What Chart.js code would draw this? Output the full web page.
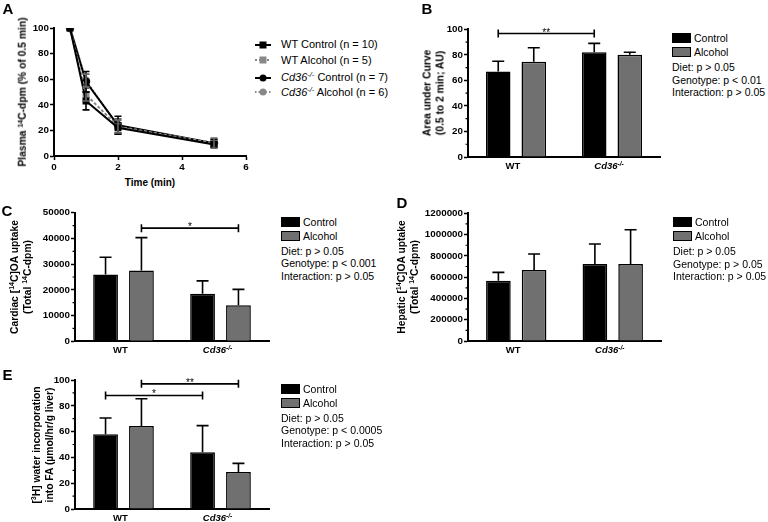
<!DOCTYPE html>
<html>
<head>
<meta charset="utf-8">
<script src="https://cdn.jsdelivr.net/npm/chart.js@4.4.1/dist/chart.umd.min.js"></script>
<style>
  body { margin: 0; background: #fff; }
  #fig { position: relative; width: 768px; height: 522px; overflow: hidden; font-family: "Liberation Sans", Arial, sans-serif; color: #000; }
  #fig canvas { position: absolute; }
  .t { position: absolute; white-space: nowrap; line-height: 1; }
  .mid { transform: translate(-50%, -50%); }
  .lft { transform: translate(0, -50%); }
  .rot { transform: translate(-50%, -50%) rotate(-90deg); text-align: center; line-height: 12.5px; font-size: 10.3px; font-weight: bold; }
  sup { font-size: 0.68em; line-height: 0; vertical-align: 0.5em; }
  .letter { font-weight: bold; font-size: 15px; }
  .cat { font-weight: bold; font-size: 9.5px; }
  .leg { font-size: 10.5px; }
  .sw { position: absolute; width: 17px; height: 8px; border: 1px solid #000; transform: translate(0, -50%); }
</style>
</head>
<body>
<div id="fig"></div>
<script>
// ---- data ----
const timePoints = [0.5, 1, 2, 5];
const wtControlPct = [100, 43, 22, 9];
const wtControlErr = [0, 7, 4, 2];
const wtAlcoholPct = [100, 48, 23, 10];
const wtAlcoholErr = [0, 5, 6, 3];
const cd36ControlPct = [100, 58, 24, 10];
const cd36ControlErr = [0, 8, 7, 3];
const cd36AlcoholPct = [100, 59, 23, 10];
const cd36AlcoholErr = [0, 5, 5, 4];

const genotypes = ['WT', 'Cd36-/-'];

const aucControl = [67, 82];
const aucControlErr = [8, 7];
const aucAlcohol = [74.5, 80];
const aucAlcoholErr = [11, 2];

const cardiacControl = [26000, 18500];
const cardiacControlErr = [6700, 5000];
const cardiacAlcohol = [27500, 14000];
const cardiacAlcoholErr = [12800, 6200];

const hepaticControl = [566000, 724000];
const hepaticControlErr = [79000, 188000];
const hepaticAlcohol = [667000, 724000];
const hepaticAlcoholErr = [151000, 322000];

const lipoControl = [58, 44];
const lipoControlErr = [12.5, 20.6];
const lipoAlcohol = [64.3, 28.7];
const lipoAlcoholErr = [21.2, 6.7];

const CONTROL_FILL = '#000000';
const ALCOHOL_FILL = '#707070';
const FONT = "'Liberation Sans', Arial, sans-serif";

const fig = document.getElementById('fig');

function addText(html, x, y, cls) {
  const d = document.createElement('div');
  d.className = 't ' + cls;
  d.innerHTML = html;
  d.style.left = x + 'px';
  d.style.top = y + 'px';
  fig.appendChild(d);
  return d;
}

function makeCanvas(box) {
  const c = document.createElement('canvas');
  c.width = box.w; c.height = box.h;
  c.style.left = box.x + 'px'; c.style.top = box.y + 'px';
  c.style.width = box.w + 'px'; c.style.height = box.h + 'px';
  fig.appendChild(c);
  return c;
}

// work out padding / axis sizes so the plot area lands where it is in the figure
function frame(box, area) {
  return {
    padding: { left: 0, top: area.top - box.y, right: box.x + box.w - area.right, bottom: 0 },
    yWidth: area.left - box.x,
    xHeight: box.y + box.h - area.bottom
  };
}

// error bars (upper only for bars, both sides for the time course)
const errorBars = {
  id: 'errorBars',
  afterDatasetsDraw(chart) {
    const ctx = chart.ctx, y = chart.scales.y;
    chart.data.datasets.forEach((ds, di) => {
      if (!ds.errors) return;
      const meta = chart.getDatasetMeta(di);
      ctx.save();
      ctx.strokeStyle = ds.errorColor || '#000';
      ctx.lineWidth = 1.6;
      meta.data.forEach((el, i) => {
        const e = ds.errors[i];
        if (!e) return;
        const raw = ds.data[i];
        const v = typeof raw === 'object' ? raw.y : raw;
        const top = y.getPixelForValue(v + e);
        const bot = ds.twoSided ? y.getPixelForValue(v - e) : el.y;
        const cap = ds.capWidth / 2;
        ctx.beginPath();
        ctx.moveTo(el.x, bot); ctx.lineTo(el.x, top);
        ctx.moveTo(el.x - cap, top); ctx.lineTo(el.x + cap, top);
        if (ds.twoSided) { ctx.moveTo(el.x - cap, bot); ctx.lineTo(el.x + cap, bot); }
        ctx.stroke();
      });
      ctx.restore();
    });
  }
};

// significance brackets between two bars
const brackets = {
  id: 'brackets',
  afterDraw(chart, args, opts) {
    const ctx = chart.ctx;
    (opts.items || []).forEach(b => {
      const x1 = chart.getDatasetMeta(b.from[0]).data[b.from[1]].x;
      const x2 = chart.getDatasetMeta(b.to[0]).data[b.to[1]].x;
      const yy = chart.scales.y.getPixelForValue(b.value);
      ctx.save();
      ctx.strokeStyle = '#000';
      ctx.lineWidth = 1.6;
      ctx.beginPath();
      ctx.moveTo(x1, yy); ctx.lineTo(x2, yy);
      ctx.moveTo(x1, yy - 4); ctx.lineTo(x1, yy + 4);
      ctx.moveTo(x2, yy - 4); ctx.lineTo(x2, yy + 4);
      ctx.stroke();
      ctx.fillStyle = '#000';
      ctx.font = '10px ' + FONT;
      ctx.textAlign = 'center';
      ctx.textBaseline = 'alphabetic';
      ctx.fillText(b.label, (x1 + x2) / 2, yy + 2);
      ctx.restore();
    });
  }
};

// short minor ticks between the labelled ones
const minorTicks = {
  id: 'minorTicks',
  afterDraw(chart, args, opts) {
    if (!opts.step) return;
    const y = chart.scales.y, ctx = chart.ctx, x0 = chart.chartArea.left;
    ctx.save();
    ctx.strokeStyle = '#000';
    ctx.lineWidth = 1.2;
    ctx.beginPath();
    for (let v = opts.step; v < y.max; v += opts.step * 2) {
      const py = y.getPixelForValue(v);
      ctx.moveTo(x0 - 2.5, py); ctx.lineTo(x0, py);
    }
    ctx.stroke();
    ctx.restore();
  }
};

const tickFont = { family: FONT, size: 9.8, weight: 'bold' };
const axisBorder = { display: true, color: '#000', width: 2 };
const tickGrid = { display: true, drawOnChartArea: false, drawTicks: true, tickLength: 4, tickWidth: 1.5, tickColor: '#000' };

function barPanel(box, area, yMax, yStep, control, controlErr, alcohol, alcoholErr, bracketList) {
  const f = frame(box, area);
  const chart = new Chart(makeCanvas(box), {
    type: 'bar',
    data: {
      labels: genotypes,
      datasets: [
        { label: 'Control', data: control, errors: controlErr, capWidth: 12,
          backgroundColor: CONTROL_FILL, borderColor: '#000', borderWidth: 1.5 },
        { label: 'Alcohol', data: alcohol, errors: alcoholErr, capWidth: 12,
          backgroundColor: ALCOHOL_FILL, borderColor: '#000', borderWidth: 1.5 }
      ]
    },
    options: {
      responsive: false, animation: false, devicePixelRatio: 1,
      layout: { padding: f.padding },
      datasets: { bar: { categoryPercentage: 0.74, barPercentage: 0.69 } },
      plugins: {
        legend: { display: false }, tooltip: { enabled: false },
        brackets: { items: bracketList }, minorTicks: { step: yStep / 2 }
      },
      scales: {
        x: { ticks: { display: false }, grid: { display: false }, border: axisBorder,
             afterFit: s => { s.height = f.xHeight; } },
        y: { min: 0, max: yMax,
             ticks: { stepSize: yStep, font: tickFont, color: '#000', padding: 1, callback: v => String(v) },
             grid: tickGrid, border: axisBorder,
             afterFit: s => { s.width = f.yWidth; } }
      }
    },
    plugins: [errorBars, brackets, minorTicks]
  });
  // category labels under the axis
  const xs = chart.scales.x;
  const names = ['WT', '<i>Cd36<sup>-/-</sup></i>'];
  names.forEach((n, i) => addText(n, box.x + xs.getPixelForValue(i) - 3, area.bottom + 9, 'mid cat'));
  return chart;
}

function barLegend(area, stats) {
  const x = area.right + 12;
  [['Control', CONTROL_FILL, 9], ['Alcohol', ALCOHOL_FILL, 23]].forEach(([name, col, dy]) => {
    const s = document.createElement('div');
    s.className = 'sw';
    s.style.left = x + 'px'; s.style.top = (area.top + dy) + 'px'; s.style.background = col;
    fig.appendChild(s);
    addText(name, x + 22, area.top + dy, 'lft leg');
  });
  stats.forEach((line, i) => addText(line, x, area.top + 38 + i * 12.4, 'lft leg'));
}

// ---------- Panel A: time course ----------
(function () {
  const box = { x: 0, y: 10, w: 252, h: 165 };
  const area = { left: 54, top: 28, right: 248, bottom: 156 };
  const f = frame(box, area);
  const pts = arr => timePoints.map((t, i) => ({ x: t, y: arr[i] }));
  new Chart(makeCanvas(box), {
    type: 'line',
    data: {
      datasets: [
        { label: 'WT Control (n = 10)', data: pts(wtControlPct), errors: wtControlErr, twoSided: true, capWidth: 7,
          borderColor: '#000', backgroundColor: '#000', pointStyle: 'rect', pointRadius: 3.5, borderWidth: 2 },
        { label: 'WT Alcohol (n = 5)', data: pts(wtAlcoholPct), errors: wtAlcoholErr, twoSided: true, capWidth: 7,
          errorColor: '#666', borderColor: '#888', backgroundColor: '#888', borderDash: [3, 2],
          pointStyle: 'rect', pointRadius: 3.5, borderWidth: 2 },
        { label: 'Cd36-/- Control (n = 7)', data: pts(cd36ControlPct), errors: cd36ControlErr, twoSided: true, capWidth: 7,
          borderColor: '#000', backgroundColor: '#000', pointStyle: 'circle', pointRadius: 3.2, borderWidth: 2 },
        { label: 'Cd36-/- Alcohol (n = 6)', data: pts(cd36AlcoholPct), errors: cd36AlcoholErr, twoSided: true, capWidth: 7,
          errorColor: '#666', borderColor: '#888', backgroundColor: '#888', borderDash: [1.5, 2],
          pointStyle: 'circle', pointRadius: 3.2, borderWidth: 2 }
      ]
    },
    options: {
      responsive: false, animation: false, devicePixelRatio: 1,
      layout: { padding: f.padding },
      elements: { line: { tension: 0, fill: false }, point: { borderWidth: 0 } },
      plugins: { legend: { display: false }, tooltip: { enabled: false } },
      scales: {
        x: { type: 'linear', min: 0, max: 6,
             ticks: { stepSize: 2, font: tickFont, color: '#000', padding: 1 },
             grid: tickGrid, border: axisBorder,
             afterFit: s => { s.height = f.xHeight; } },
        y: { min: 0, max: 100,
             ticks: { stepSize: 20, font: tickFont, color: '#000', padding: 1 },
             grid: tickGrid, border: axisBorder,
             afterFit: s => { s.width = f.yWidth; } }
      }
    },
    plugins: [errorBars]
  });

  addText('Time (min)', 150, 183, 'mid').style.cssText += 'font-weight:bold;font-size:10px;';
  addText('Plasma <sup>14</sup>C-dpm (% of 0.5 min)', 23, 92, 'rot');

  // legend
  const entries = [
    ['WT Control (n = 10)', '#000', 'rect', '', 44],
    ['WT Alcohol (n = 5)', '#888', 'rect', '2,2', 59.5],
    ['<i>Cd36<sup>-/-</sup></i> Control (n = 7)', '#000', 'circle', '', 77],
    ['<i>Cd36<sup>-/-</sup></i> Alcohol (n = 6)', '#888', 'circle', '1.5,2', 91.5]
  ];
  entries.forEach(([txt, col, shape, dash, y]) => {
    const mk = shape === 'rect'
      ? `<rect x="4.5" y="1.5" width="7" height="7" fill="${col}"/>`
      : `<circle cx="8" cy="5" r="3.5" fill="${col}"/>`;
    const svg = `<svg width="16" height="10" style="vertical-align:middle"><line x1="0" y1="5" x2="16" y2="5" stroke="${col}" stroke-width="2" ${dash ? 'stroke-dasharray="' + dash + '"' : ''}/>${mk}</svg>`;
    addText(svg, 255, y, 'lft');
    addText(txt, 281, y, 'lft').style.fontSize = '11px';
  });
})();

// ---------- Panel B ----------
const areaB = { left: 468, top: 29.3, right: 660, bottom: 157 };
barPanel({ x: 400, y: 10, w: 265, h: 160 }, areaB, 100, 20,
  aucControl, aucControlErr, aucAlcohol, aucAlcoholErr,
  [{ from: [0, 0], to: [0, 1], value: 96.7, label: '**' }]);
addText('Area under Curve<br>(0.5 to 2 min; AU)', 434, 93, 'rot');
barLegend(areaB, ['Diet: p &gt; 0.05', 'Genotype: p &lt; 0.01', 'Interaction: p &gt; 0.05']);

// ---------- Panel C ----------
const areaC = { left: 75, top: 212.7, right: 269, bottom: 341.3 };
barPanel({ x: 20, y: 200, w: 255, h: 155 }, areaC, 50000, 10000,
  cardiacControl, cardiacControlErr, cardiacAlcohol, cardiacAlcoholErr,
  [{ from: [1, 0], to: [1, 1], value: 44000, label: '*' }]);
addText('Cardiac [<sup>14</sup>C]OA uptake<br>(Total <sup>14</sup>C-dpm)', 20.5, 277, 'rot');
barLegend(areaC, ['Diet: p &gt; 0.05', 'Genotype: p &lt; 0.001', 'Interaction: p &gt; 0.05']);

// ---------- Panel D ----------
const areaD = { left: 468, top: 213.3, right: 661, bottom: 341 };
barPanel({ x: 410, y: 200, w: 256, h: 155 }, areaD, 1200000, 200000,
  hepaticControl, hepaticControlErr, hepaticAlcohol, hepaticAlcoholErr, []);
addText('Hepatic [<sup>14</sup>C]OA uptake<br>(Total <sup>14</sup>C-dpm)', 407.5, 277, 'rot');
barLegend(areaD, ['Diet: p &gt; 0.05', 'Genotype: p &gt; 0.05', 'Interaction: p &gt; 0.05']);

// ---------- Panel E ----------
const areaE = { left: 75, top: 380, right: 269, bottom: 509 };
barPanel({ x: 20, y: 368, w: 255, h: 154 }, areaE, 100, 20,
  lipoControl, lipoControlErr, lipoAlcohol, lipoAlcoholErr,
  [{ from: [0, 0], to: [0, 1], value: 88, label: '*' },
   { from: [1, 0], to: [1, 1], value: 97, label: '**' }]);
addText('[<sup>3</sup>H] water incorporation<br>into FA (µmol/hr/g liver)', 43, 444.5, 'rot');
barLegend(areaE, ['Diet: p &gt; 0.05', 'Genotype: p &lt; 0.0005', 'Interaction: p &gt; 0.05']);

// panel letters
[['A', 8, 8], ['B', 427, 8], ['C', 7, 210], ['D', 402, 202], ['E', 7.5, 374]]
  .forEach(([l, x, y]) => addText(l, x, y, 'mid letter'));
</script>
</body>
</html>
